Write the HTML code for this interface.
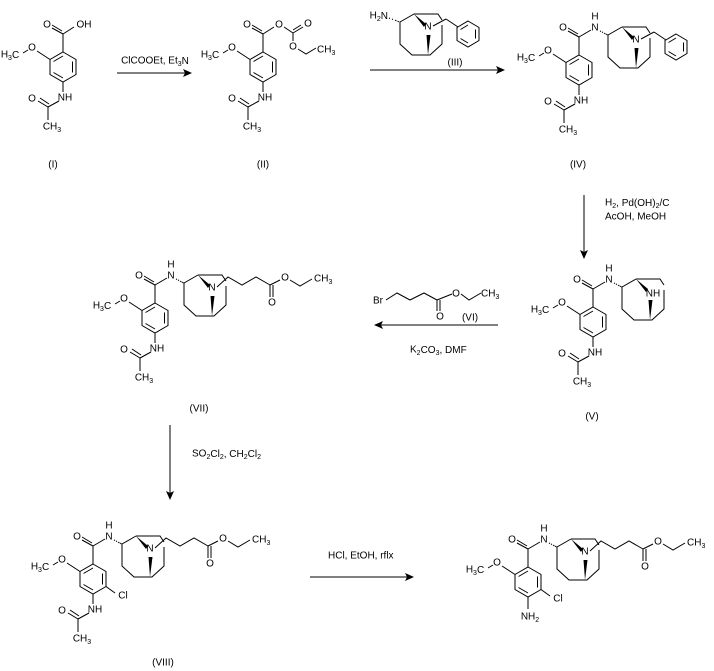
<!DOCTYPE html>
<html><head><meta charset="utf-8"><style>
html,body{margin:0;padding:0;background:#fff}
svg{display:block}
text{font-family:"Liberation Sans",Arial,sans-serif;font-size:10px;fill:#000;dominant-baseline:central}
.s{font-size:7px}
line,polyline,polygon.r{stroke:#000;stroke-width:1;fill:none}
</style></head><body>
<svg width="714" height="671" viewBox="0 0 714 671" xmlns="http://www.w3.org/2000/svg">
<defs>
<g id="core">
 <polygon class="r" points="0,-15 13,-7.5 13,7.5 0,15 -13,7.5 -13,-7.5"/>
 <line x1="9.5" y1="-5.5" x2="9.5" y2="5.5"/>
 <line x1="-9.5" y1="-5.5" x2="0" y2="-11"/>
 <line x1="-9.5" y1="5.5" x2="0" y2="11"/>
 <line x1="0" y1="-15" x2="0" y2="-33"/>
 <line x1="0" y1="-33" x2="-11" y2="-39"/>
 <line x1="-1" y1="-36" x2="-11" y2="-42"/>
 <text x="-16" y="-42" text-anchor="middle">O</text>
 <line x1="-13" y1="-7.5" x2="-26" y2="-16"/>
 <text x="-31" y="-19" text-anchor="middle">O</text>
 <line x1="-35" y1="-17" x2="-40" y2="-14"/>
 <text x="-53" y="-12" text-anchor="middle">H<tspan class="s" dy="3">3</tspan><tspan dy="-3">C</tspan></text>
</g>
<g id="nhac">
 <line x1="0" y1="15" x2="0" y2="25"/>
 <text x="2" y="31" text-anchor="middle">NH</text>
 <line x1="-4" y1="34" x2="-15" y2="40"/>
 <line x1="-15" y1="40" x2="-25" y2="34"/>
 <line x1="-14" y1="37" x2="-23" y2="31"/>
 <text x="-31" y="32" text-anchor="middle">O</text>
 <line x1="-15" y1="40" x2="-15" y2="53"/>
 <text x="-11" y="60" text-anchor="middle">CH<tspan class="s" dy="3">3</tspan></text>
</g>
<g id="amideN">
 <line x1="0" y1="-33" x2="12" y2="-40"/>
 <text x="16" y="-42" text-anchor="middle">N</text>
 <text x="16" y="-53" text-anchor="middle">H</text>
 <line x1="21" y1="-39" x2="22" y2="-38.5"/><line x1="23" y1="-38" x2="24" y2="-37.5" stroke-width="1.5"/><line x1="25" y1="-37" x2="26.5" y2="-36" stroke-width="2"/><line x1="27" y1="-36" x2="28.5" y2="-35" stroke-width="2.5"/>
</g>
<g id="bic">
 <polyline points="14,-8 0,0 0,22 12,33 30,33 42,22 42,3"/>
 <polyline points="14,-8 38,-8 42,-2"/>
 <polygon points="14,-8 26,2 24,5" fill="#000"/>
 <polygon points="28,33 26.5,13 30.5,13" fill="#000"/>
</g>
<g id="ester">
 <polyline points="33,4 44,-6 58,2 72,-6 86,2"/>
 <line x1="86" y1="2" x2="86" y2="14"/><line x1="89" y1="2" x2="89" y2="14"/>
 <text x="88" y="20" text-anchor="middle">O</text>
 <line x1="86" y1="2" x2="96" y2="-3"/>
 <text x="101" y="-5" text-anchor="middle">O</text>
 <polyline points="106,-3 116,3 128,-4"/>
 <text x="130" y="-4">CH<tspan class="s" dy="3">3</tspan></text>
</g>
<g id="benzyl">
 <line x1="33" y1="4" x2="46" y2="-3"/>
 <line x1="46" y1="-3" x2="58" y2="5"/>
 <polygon class="r" points="68,-1 79,5.5 79,18.5 68,25 57,18.5 57,5.5"/>
 <line x1="75.5" y1="7.5" x2="75.5" y2="16.5"/>
 <line x1="60.5" y1="7.5" x2="68" y2="3"/>
 <line x1="60.5" y1="16.5" x2="68" y2="21"/>
</g>
</defs>

<!-- (I) -->
<g transform="translate(63,67)">
 <polygon class="r" points="0,-15 13,-7.5 13,7.5 0,15 -13,7.5 -13,-7.5"/>
 <line x1="9.5" y1="-5.5" x2="9.5" y2="5.5"/><line x1="-9.5" y1="-5.5" x2="0" y2="-11"/><line x1="-9.5" y1="5.5" x2="0" y2="11"/>
 <line x1="0" y1="-15" x2="0" y2="-33"/>
 <line x1="0" y1="-33" x2="-11" y2="-39"/><line x1="-1" y1="-36" x2="-11" y2="-42"/>
 <text x="-16" y="-42" text-anchor="middle">O</text>
 <line x1="0" y1="-33" x2="11" y2="-40"/>
 <text x="21" y="-42" text-anchor="middle">OH</text>
 <line x1="-13" y1="-7.5" x2="-26" y2="-16"/>
 <text x="-31" y="-19" text-anchor="middle">O</text>
 <line x1="-35" y1="-17" x2="-40" y2="-14"/>
 <text x="-53" y="-12" text-anchor="middle">H<tspan class="s" dy="3">3</tspan><tspan dy="-3">C</tspan></text>
 <use href="#nhac"/>
</g>
<text x="53" y="165" text-anchor="middle">(I)</text>

<!-- arrow 1 -->
<line x1="117" y1="73" x2="186" y2="73"/>
<polygon points="192,73 183,69 185,73 183,77" fill="#000"/>
<text x="155" y="61" text-anchor="middle">ClCOOEt, Et<tspan class="s" dy="3">3</tspan><tspan dy="-3">N</tspan></text>

<!-- (II) -->
<g transform="translate(263,67)">
 <polygon class="r" points="0,-15 13,-7.5 13,7.5 0,15 -13,7.5 -13,-7.5"/>
 <line x1="9.5" y1="-5.5" x2="9.5" y2="5.5"/><line x1="-9.5" y1="-5.5" x2="0" y2="-11"/><line x1="-9.5" y1="5.5" x2="0" y2="11"/>
 <line x1="0" y1="-15" x2="0" y2="-33"/>
 <line x1="0" y1="-33" x2="-11" y2="-39"/><line x1="-1" y1="-36" x2="-11" y2="-42"/>
 <text x="-16" y="-42" text-anchor="middle">O</text>
 <line x1="0" y1="-33" x2="11" y2="-40"/>
 <text x="16" y="-42" text-anchor="middle">O</text>
 <line x1="21" y1="-40" x2="30" y2="-34"/>
 <line x1="30" y1="-34" x2="40" y2="-40"/><line x1="30" y1="-37" x2="38" y2="-42"/>
 <text x="45" y="-43" text-anchor="middle">O</text>
 <line x1="30" y1="-34" x2="30" y2="-26"/>
 <text x="30" y="-20" text-anchor="middle">O</text>
 <polyline points="35,-18 43,-13 53,-19"/>
 <text x="54" y="-17">CH<tspan class="s" dy="3">3</tspan></text>
 <line x1="-13" y1="-7.5" x2="-26" y2="-16"/>
 <text x="-31" y="-19" text-anchor="middle">O</text>
 <line x1="-35" y1="-17" x2="-40" y2="-14"/>
 <text x="-53" y="-12" text-anchor="middle">H<tspan class="s" dy="3">3</tspan><tspan dy="-3">C</tspan></text>
 <use href="#nhac"/>
</g>
<text x="263" y="165" text-anchor="middle">(II)</text>

<!-- (III) reagent -->
<g transform="translate(400,22)">
 <text x="-12" y="-6" text-anchor="end">H<tspan class="s" dy="3">2</tspan><tspan dy="-3">N</tspan></text>
 <line x1="-11" y1="-4" x2="-10" y2="-3.5"/><line x1="-8" y1="-3" x2="-7" y2="-2.5" stroke-width="1.5"/><line x1="-5" y1="-2" x2="-3.5" y2="-1" stroke-width="2"/><line x1="-2.5" y1="-1" x2="-1" y2="0" stroke-width="2.5"/>
 <use href="#bic"/>
 <text x="28" y="5" text-anchor="middle">N</text>
 <use href="#benzyl"/>
</g>
<text x="455" y="63" text-anchor="middle">(III)</text>
<line x1="370" y1="70" x2="499" y2="70"/>
<polygon points="505,70 496,66 498,70 496,74" fill="#000"/>

<!-- (IV) -->
<g transform="translate(579,70)">
 <use href="#core"/><use href="#nhac"/><use href="#amideN"/>
 <g transform="translate(29,-35)">
  <use href="#bic"/><text x="28" y="5" text-anchor="middle">N</text>
  <use href="#benzyl"/>
 </g>
</g>
<text x="578" y="165" text-anchor="middle">(IV)</text>

<!-- arrow IV->V -->
<line x1="584" y1="195" x2="584" y2="253"/>
<polygon points="584,259 580,250 584,252 588,250" fill="#000"/>
<text x="605" y="203">H<tspan class="s" dy="3">2</tspan><tspan dy="-3">, Pd(OH)</tspan><tspan class="s" dy="3">2</tspan><tspan dy="-3">/C</tspan></text>
<text x="605" y="217">AcOH, MeOH</text>

<!-- (V) -->
<g transform="translate(593,322)">
 <use href="#core"/><use href="#nhac"/><use href="#amideN"/>
 <g transform="translate(29,-35)">
  <use href="#bic"/><text x="31" y="7" text-anchor="middle">NH</text>
 </g>
</g>
<text x="592" y="417" text-anchor="middle">(V)</text>

<!-- (VI) + arrow -->
<text x="373" y="301">Br</text>
<polyline points="386,300 397,293 410,300 424,293 437,300"/>
<line x1="437" y1="300" x2="437" y2="311"/><line x1="440" y1="300" x2="440" y2="311"/>
<text x="440" y="317" text-anchor="middle">O</text>
<line x1="437" y1="300" x2="452" y2="294"/>
<text x="456" y="294" text-anchor="middle">O</text>
<polyline points="461,294 469,300 481,293"/>
<text x="481" y="294">CH<tspan class="s" dy="3">3</tspan></text>
<text x="470" y="318" text-anchor="middle">(VI)</text>
<line x1="380" y1="325" x2="498" y2="325"/>
<polygon points="374,325 383,321 381,325 383,329" fill="#000"/>
<text x="410" y="350">K<tspan class="s" dy="3">2</tspan><tspan dy="-3">CO</tspan><tspan class="s" dy="3">3</tspan><tspan dy="-3">, DMF</tspan></text>

<!-- (VII) -->
<g transform="translate(155,318)">
 <use href="#core"/><use href="#nhac"/><use href="#amideN"/>
 <g transform="translate(29,-35)">
  <use href="#bic"/><text x="28" y="5" text-anchor="middle">N</text>
  <use href="#ester"/>
 </g>
</g>
<text x="199" y="409" text-anchor="middle">(VII)</text>

<!-- arrow VII->VIII -->
<line x1="170" y1="425" x2="170" y2="494"/>
<polygon points="170,500 166,491 170,493 174,491" fill="#000"/>
<text x="192" y="454">SO<tspan class="s" dy="3">2</tspan><tspan dy="-3">Cl</tspan><tspan class="s" dy="3">2</tspan><tspan dy="-3">, CH</tspan><tspan class="s" dy="3">2</tspan><tspan dy="-3">Cl</tspan><tspan class="s" dy="3">2</tspan></text>

<!-- (VIII) -->
<g transform="translate(93,579)">
 <use href="#core"/><use href="#nhac"/><use href="#amideN"/>
 <line x1="13" y1="7.5" x2="22" y2="14"/>
 <text x="30" y="17" text-anchor="middle">Cl</text>
 <g transform="translate(29,-35)">
  <use href="#bic"/><text x="28" y="5" text-anchor="middle">N</text>
  <use href="#ester"/>
 </g>
</g>
<text x="163" y="663" text-anchor="middle">(VIII)</text>

<!-- arrow VIII->final -->
<line x1="310" y1="577" x2="408" y2="577"/>
<polygon points="414,577 405,573 407,577 405,581" fill="#000"/>
<text x="328" y="556">HCl, EtOH, rflx</text>

<!-- final -->
<g transform="translate(528,582)">
 <use href="#core"/><use href="#amideN"/>
 <line x1="13" y1="7.5" x2="22" y2="14"/>
 <text x="30" y="17" text-anchor="middle">Cl</text>
 <line x1="0" y1="15" x2="0" y2="27"/>
 <text x="2" y="35" text-anchor="middle">NH<tspan class="s" dy="3">2</tspan></text>
 <g transform="translate(29,-35)">
  <use href="#bic"/><text x="28" y="5" text-anchor="middle">N</text>
  <use href="#ester"/>
 </g>
</g>
</svg>
</body></html>
